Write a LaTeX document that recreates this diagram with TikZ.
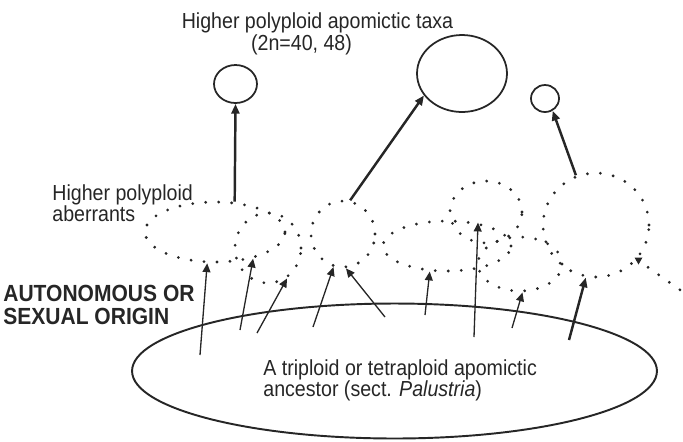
\documentclass[tikz,border=0pt]{standalone}
\usepackage{fontspec}
\setmainfont{Liberation Sans}[FakeStretch=0.9]
\usepackage{tikz}
\usetikzlibrary{arrows.meta,positioning,shapes.geometric}
\colorlet{ink}{black!85}

\begin{document}
\begin{tikzpicture}[x=0.02cm, y=-0.02cm, color=ink,
        taxon/.style={draw, ellipse, inner sep=0pt, line width=1pt},
        dots/.style={line width=1.75pt, line cap=round, dash pattern=on 0pt off 7.4pt},
        aberrant/.style={dots, draw, ellipse, inner sep=0pt},
        lineage/.style={-{Triangle[length=5pt,width=4.5pt]}, line width=0.75pt},
        rise/.style={-{Triangle[length=5.5pt,width=4.5pt]}, line width=1.4pt},
        txt/.style={inner sep=0pt, font=\fontsize{12.4}{12}\selectfont}]
        \useasboundingbox (0,0) rectangle (683,441);

        % Higher polyploid taxa
        \node[taxon, minimum width=8.6mm, minimum height=7.6mm] (taxL) at (235.5,84) {};
        \node[taxon, minimum width=18mm, minimum height=15.4mm] (taxM) at (462,73.5) {};
        \node[taxon, minimum width=5.6mm, minimum height=5.4mm] (taxR) at (545,98.5) {};
        \node[txt, anchor=base] (taxaLabel) at (317.5,28) {Higher polyploid apomictic taxa};
        \node[txt, anchor=base] (ploidyLabel) at (301.5,50) {(2n=40, 48)};

        % Aberrants
        \node[aberrant, minimum width=28mm, minimum height=12mm] (abA) at (215,232) {};
        \node[aberrant, minimum width=13.2mm, minimum height=14mm] (abB) at (268,248) {};
        \node[aberrant, minimum width=12.8mm, minimum height=13.2mm] (abC) at (343,234) {};
        \node[aberrant, minimum width=25.6mm, minimum height=10mm] (abD) at (447,246) {};
        \node[aberrant, minimum width=14.4mm, minimum height=12.4mm] (abE) at (486,212) {};
        \node[aberrant, minimum width=16.8mm, minimum height=10.8mm] (abF) at (520,264) {};
        \node[aberrant, minimum width=21.2mm, minimum height=20.8mm] (abG) at (596,225) {};
        \node[txt, anchor=north west, align=left] (aberrLabel) at (52,184) {Higher polyploid\\aberrants};

        % open end of the last one
        \coordinate (tailEnd) at (683,292);
        \draw[dots] (abG.-40) -- (tailEnd);
        \fill (634.5,257.5) -- (642.5,257.5) -- (638.5,264.5) -- cycle;

        % Ancestor
        \node[draw, ellipse, inner sep=0pt, line width=1.1pt, minimum width=105mm, minimum height=27mm] (ancestor) at (394.5,371) {};
        \node[txt, anchor=north west, align=left] (ancLabel) at (263,359) {A triploid or tetraploid apomictic\\ancestor (sect. \textit{Palustria})};
        \node[inner sep=0pt, anchor=north west, align=left, font=\fontsize{13.3}{13}\selectfont\bfseries] (originLabel) at (3,285) {AUTONOMOUS OR\\SEXUAL ORIGIN};

        % Aberrants -> taxa
        \draw[rise] (abA.57) -- (taxL.south);
        \draw[rise] (abC.78) -- (taxM.210);
        \draw[rise] (abG.112) -- (taxR.-58);

        % Ancestor -> aberrants
        \coordinate (s1) at (200,355);
        \coordinate (s2) at (240,330);
        \coordinate (s3) at (257,333);
        \coordinate (s4) at (313,327);
        \coordinate (s5) at (385,317);
        \coordinate (s6) at (425,315);
        \coordinate (s7) at (474,337);
        \coordinate (s8) at (512,328);
        \coordinate (s9) at (569,340);
        \draw[lineage] (s1) -- (abA.-104);
        \draw[lineage] (s2) -- (abA.-35);
        \draw[lineage] (s3) -- (abB.-58);
        \draw[lineage] (s4) -- (abC.-106);
        \draw[lineage] (s5) -- (abC.-85);
        \draw[lineage] (s6) -- (abD.-124);
        \draw[lineage] (s7) -- (abD.37);
        \draw[lineage] (s8) -- (abF.-85);
        \draw[rise] (s9) -- (abG.-101);
    \end{tikzpicture}
\end{document}
